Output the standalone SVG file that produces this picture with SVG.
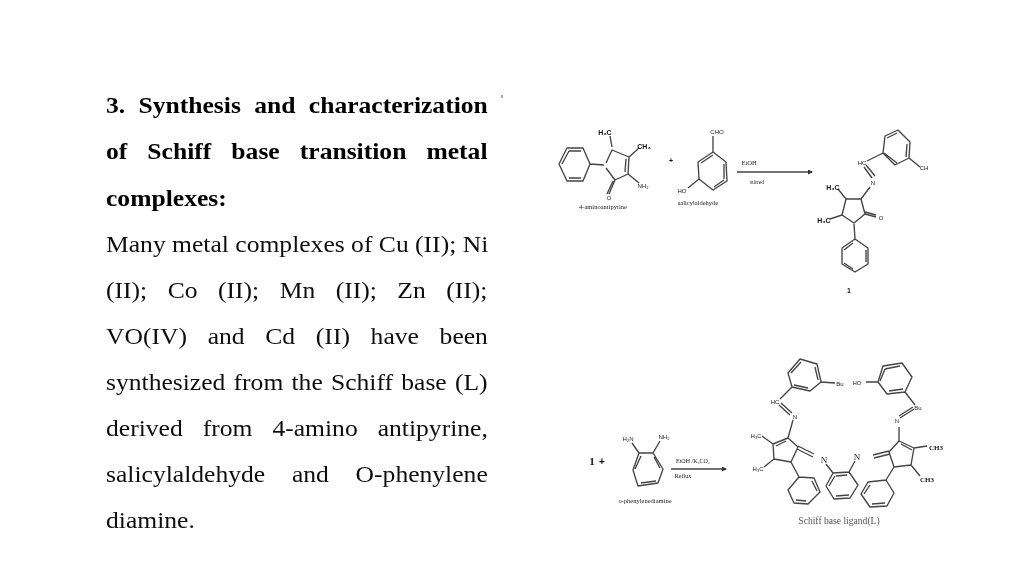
<svg xmlns="http://www.w3.org/2000/svg" width="1024" height="576" viewBox="0 0 1024 576">
<defs>
<filter id="soft" x="-5%" y="-5%" width="110%" height="110%"><feGaussianBlur stdDeviation="0.6"/></filter>
<filter id="crisp" x="-2%" y="-2%" width="104%" height="104%"><feGaussianBlur stdDeviation="0.25"/></filter>
<marker id="head" markerWidth="5" markerHeight="5" refX="4" refY="2.5" orient="auto" markerUnits="userSpaceOnUse"><path d="M0 0L5 2.5L0 5Z" fill="#333"/></marker>
</defs>
<style>
.body{font-family:"Liberation Serif","Times New Roman",serif;font-size:24px;fill:#111}
.b{font-weight:700;fill:#000}
.bond{fill:none;stroke:#444;stroke-width:1.35;stroke-linejoin:round}
.l{font-family:"Liberation Serif",serif;font-size:6.5px;fill:#222;text-anchor:middle}
.s{font-family:"Liberation Sans",sans-serif;font-size:6px;fill:#222;text-anchor:middle}
.k{font-family:"Liberation Sans",sans-serif;font-size:7px;font-weight:700;fill:#111;text-anchor:middle}
.arrow{fill:none;stroke:#444;stroke-width:1.6;marker-end:url(#head)}
</style>
<rect width="1024" height="576" fill="#fff"/>
<g id="text" filter="url(#crisp)" transform="translate(106 0) scale(1.0667 1)">
<text class="body b" x="0" y="113" word-spacing="6.5">3. Synthesis and characterization</text>
<text class="body b" x="0" y="159" word-spacing="12.8">of Schiff base transition metal</text>
<text class="body b" x="0" y="206">complexes:</text>
<text class="body" x="0" y="252">Many metal complexes of Cu (II); Ni</text>
<text class="body" x="0" y="298" word-spacing="13.2">(II); Co (II); Mn (II); Zn (II);</text>
<text class="body" x="0" y="344" word-spacing="13.4">VO(IV) and Cd (II) have been</text>
<text class="body" x="0" y="390" word-spacing="1.7">synthesized from the Schiff base (L)</text>
<text class="body" x="0" y="436" word-spacing="12.75">derived from 4-amino antipyrine,</text>
<text class="body" x="0" y="482" word-spacing="19.1">salicylaldehyde and O-phenylene</text>
<text class="body" x="0" y="528">diamine.</text>
</g>
<rect x="501" y="95" width="2" height="3" fill="#aaa"/>
<g filter="url(#soft)">
<g id="aminoantipyrine">
<path class="bond" d="M583 148L567 148L559 164L567 181L583 181L590 164ZM581 151L569 151M581 178L569 178M562 164L569 151M590 164L604 165M606 163L612 150L629 157L628 174L615 180L606 168M626 159L625 172M612 147L610 136M629 157L639 148M628 174L639 183M615 180L609 194M613 181L607 194"/>
<text class="k" x="605" y="135">H₃C</text><text class="k" x="644" y="149">CH₃</text><text class="s" x="643" y="188">NH₂</text><text class="s" x="609" y="200">O</text>
<text class="l" x="603" y="209">4-aminoantipyrine</text>
</g>
<g id="plus-a"><text class="k" x="671" y="163">+</text></g>
<g id="salicylaldehyde">
<path class="bond" d="M713 152L698 162L699 179L713 190L727 181L726 162ZM713 155L701 163M714 187L724 180M724 164L724 179M713 152L713 136M699 179L688 188"/>
<text class="s" x="717" y="134">CHO</text><text class="s" x="682" y="193">HO</text>
<text class="l" x="698" y="205">salicylaldehyde</text>
</g>
<g id="product-1">
<path class="bond" d="M883 153L885 136L898 130L910 142L909 158L895 165ZM887 138L897 133M907 144L906 157M884 153L897 163M909 158L920 167M883 153L867 161M864 167L872 178M866 165L875 176M870 187L861 199L846 199L842 215L854 223L865 214L861 199M846 199L838 189M842 215L830 219M865 214L876 217M865 212L876 215M854 224L855 239L868 248L868 264L855 272L842 264L842 248L855 239M866 250L866 262M853 269L844 263M844 250L853 243"/>
<text class="s" x="862" y="165">HC</text><text class="s" x="873" y="185">N</text><text class="s" x="924" y="170">CH</text><text class="k" x="833" y="190">H₃C</text><text class="k" x="824" y="223">H₃C</text><text class="s" x="881" y="220">O</text>
<text class="k" x="849" y="293">1</text>
</g>
<g id="phenylenediamine">
<path class="bond" d="M639 453L653 453L663 469L658 483L638 486L633 470ZM641 456L635 469M654 457L660 468M641 483L656 481M639 453L632 443M653 453L660 441"/>
<text class="s" x="628" y="441">H₂N</text><text class="s" x="664" y="439">NH₂</text>
<text class="l" x="645" y="503">o-phenylenediamine</text>
</g>
<g id="reactant-1"><text class="k" x="592" y="465" style="font-size:11px;font-family:'Liberation Serif',serif">1</text><text class="k" x="602" y="465" style="font-size:10px">+</text></g>
<g id="schiff-base-ligand">
<path class="bond" d="M788 373L800 359L817 364L821 382L810 391L792 387ZM791 373L801 362M815 367L818 380M808 388L794 385M821 382L835 383M792 387L780 399M781 403L792 413M779 405L790 415M793 420L788 438L773 444L774 459L791 462L798 447L788 438M786 441L776 446M773 444L762 436M774 459L764 467M798 446L814 454M797 449L813 457M791 462L799 477L814 478L820 492L808 504L794 503L788 490L799 477M812 481L817 491M806 501L796 500"/>
<path class="bond" d="M833 473L849 472L858 485L850 498L834 499L826 486ZM836 476L847 475M849 495L836 496M829 486L835 476M833 473L826 464M849 472L855 461"/>
<path class="bond" d="M878 382L883 366L902 363L912 377L905 392L887 394ZM885 369L900 366M903 389L889 391M880 381L885 369M866 382L878 382M905 392L915 405M900 418L914 409M899 416L913 407M899 427L899 441L914 448L911 465L894 467L889 452L899 441M901 444L912 450M914 448L927 446M911 465L920 476M889 451L873 455M890 454L874 458M894 467L886 480L868 482L861 494L870 507L887 506L894 493L886 480M870 485L864 494M872 504L885 503"/>
<text class="s" x="775" y="404">HC</text><text class="s" x="795" y="419">N</text><text class="s" x="840" y="386">Bu</text><text class="s" x="857" y="385">HO</text><text class="s" x="918" y="410">Bu</text><text class="s" x="897" y="423">N</text>
<text class="s" x="756" y="438">H₃C</text><text class="s" x="758" y="471">H₃C</text>
<text class="l" x="824" y="463" style="font-size:9px">N</text><text class="l" x="857" y="460" style="font-size:9px">N</text>
<text class="k" x="936" y="450" style="font-family:'Liberation Serif',serif">CH3</text><text class="k" x="927" y="482" style="font-family:'Liberation Serif',serif">CH3</text>
<text class="l" x="839" y="524" style="font-size:9.6px;fill:#555">Schiff base ligand(L)</text>
</g>
<g id="connectors">
<path class="arrow" d="M737 172L812 172"/>
<path class="arrow" d="M671 469L726 469"/>
</g>
<g id="arrow-labels">
<text class="l" x="749" y="165">EtOH</text><text class="l" x="757" y="184" style="font-size:5.5px">stirred</text>
<text class="l" x="693" y="463" style="font-size:6px">EtOH /K₂CO₃</text><text class="l" x="683" y="478" style="font-size:6px">Reflux</text>
</g>
</g>
</svg>
